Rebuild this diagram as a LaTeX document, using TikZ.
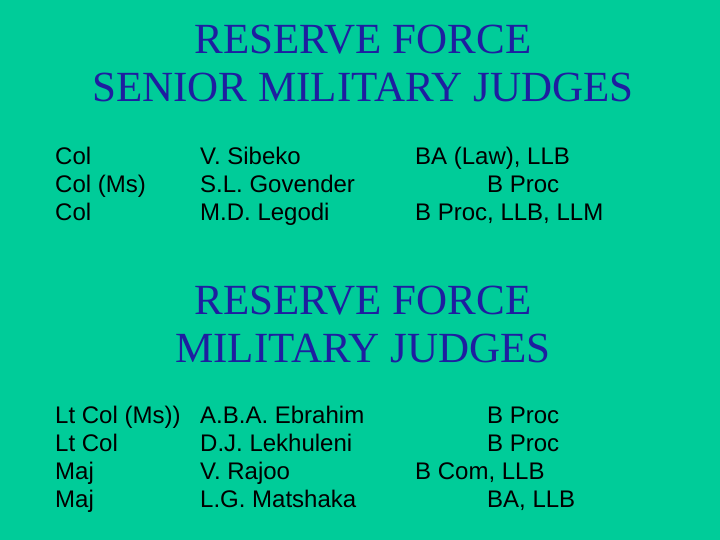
\documentclass[tikz,border=0pt]{standalone}
\usepackage{fontspec}
\setmainfont{Liberation Sans}
\newfontfamily\titlefont{Liberation Serif}
\definecolor{bg}{RGB}{0,204,153}
\definecolor{tblue}{RGB}{30,30,160}
\begin{document}
\begin{tikzpicture}[x=1pt,y=-1pt,
  ttl/.style={anchor=base,inner sep=0,text=tblue,font=\titlefont\fontsize{43}{43}\selectfont},
  txt/.style={anchor=base west,inner sep=0,font=\fontsize{24}{24}\selectfont}]
\fill[bg] (0,0) rectangle (720,540);
\useasboundingbox (0,0) rectangle (720,540);
\node[ttl] (t1) at (363,54) {RESERVE FORCE};
\node[ttl] (t2) at (363,102) {SENIOR MILITARY JUDGES};
\foreach \y/\a/\b/\c/\cx [count=\i] in {165/Col/V. Sibeko/{BA (Law), LLB}/415, 193/Col (Ms)/S.L. Govender/B Proc/487, 221/Col/M.D. Legodi/{B Proc, LLB, LLM}/415}{
  \node[txt] (a\i) at (55,\y) {\a};
  \node[txt] (b\i) at (200,\y) {\b};
  \node[txt] (c\i) at (\cx,\y) {\c};
}
\node[ttl] (t3) at (363,314) {RESERVE FORCE};
\node[ttl] (t4) at (363,362) {MILITARY JUDGES};
\foreach \y/\a/\b/\c/\cx [count=\i] in {423/Lt Col (Ms))/A.B.A. Ebrahim/B Proc/487, 451/Lt Col/D.J. Lekhuleni/B Proc/487, 479/Maj/V. Rajoo/{B Com, LLB}/415, 507/Maj/L.G. Matshaka/{BA, LLB}/487}{
  \node[txt] (d\i) at (55,\y) {\a};
  \node[txt] (e\i) at (200,\y) {\b};
  \node[txt] (f\i) at (\cx,\y) {\c};
}
\end{tikzpicture}
\end{document}
